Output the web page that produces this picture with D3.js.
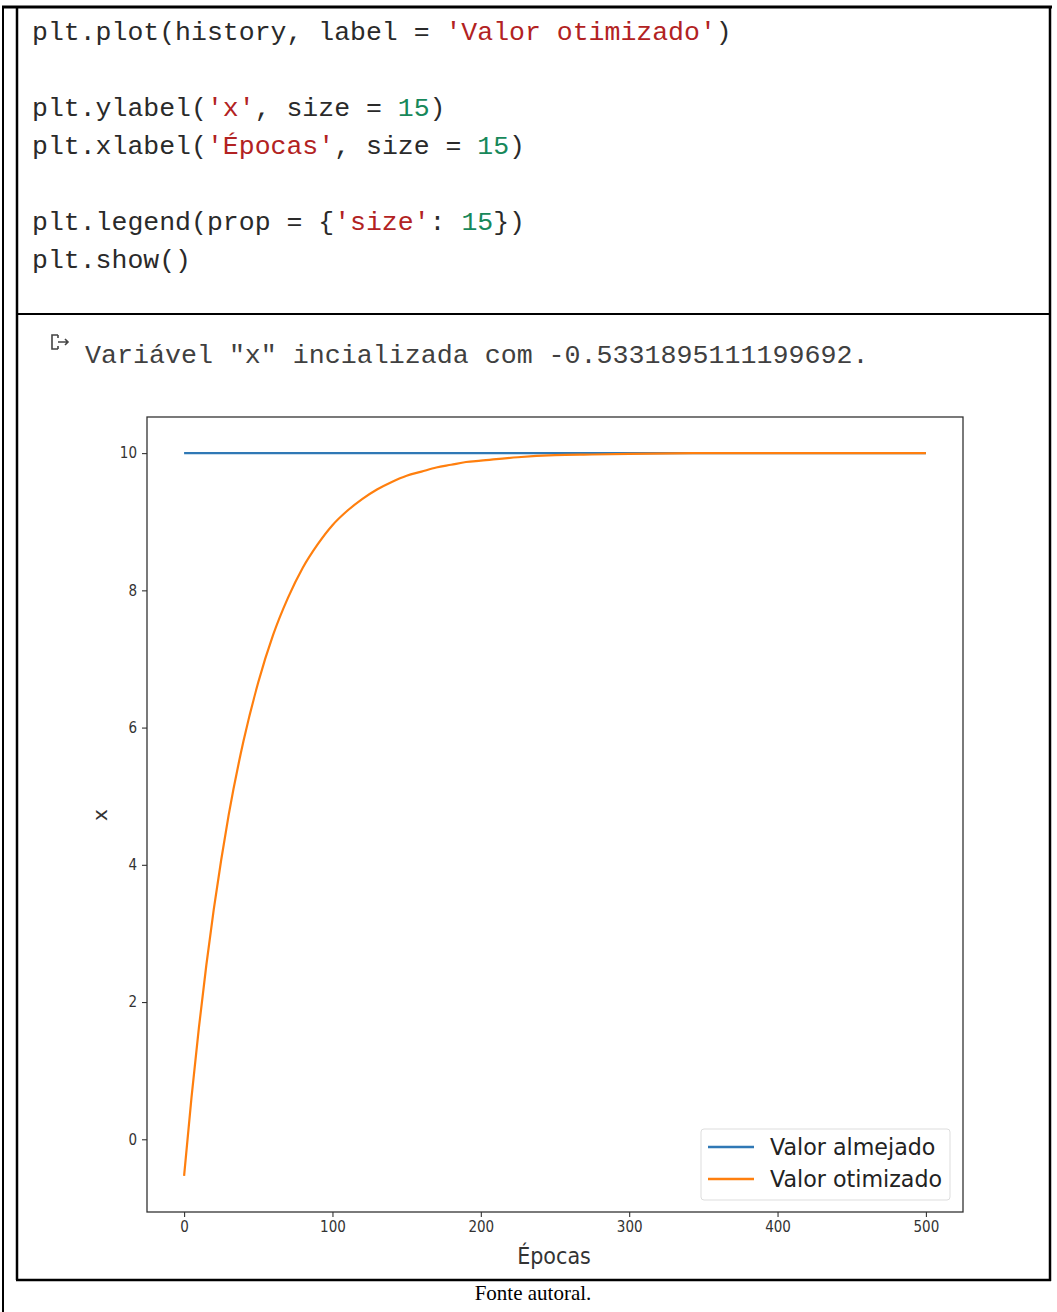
<!DOCTYPE html>
<html>
<head>
<meta charset="utf-8">
<script src="https://cdn.jsdelivr.net/npm/d3@7"></script>
<style>
  html, body { margin: 0; padding: 0; background: #fff; }
  svg { display: block; }
</style>
</head>
<body>
<svg id="page" width="1057" height="1312"></svg>
<script>
// ---------- data ----------
const epochs = [0, 5, 10, 15, 20, 25, 30, 40, 50, 60, 70, 80, 90, 100, 110, 120, 130, 140, 150, 160, 170, 180, 190, 200, 225, 250, 275, 300, 350, 400, 450, 500];
const optimizedValues = [-0.533, 0.61, 1.63, 2.54, 3.35, 4.07, 4.72, 5.80, 6.66, 7.35, 7.89, 8.33, 8.67, 8.95, 9.16, 9.33, 9.47, 9.58, 9.67, 9.73, 9.79, 9.83, 9.87, 9.89, 9.94, 9.97, 9.98, 9.99, 10.0, 10.0, 10.0, 10.0];
const targetEpochs = [0, 500];
const targetValues = [10, 10];
const xTicks = [0, 100, 200, 300, 400, 500];
const yTicks = [0, 2, 4, 6, 8, 10];
const seriesNames = ["Valor almejado", "Valor otimizado"];
const seriesColors = ["#2f78b5", "#ff7f0e"];

const codeLines = [
  [["plt.plot(history, label = ", "k"], ["'Valor otimizado'", "s"], [")", "k"]],
  null,
  [["plt.ylabel(", "k"], ["'x'", "s"], [", size = ", "k"], ["15", "n"], [")", "k"]],
  [["plt.xlabel(", "k"], ["'Épocas'", "s"], [", size = ", "k"], ["15", "n"], [")", "k"]],
  null,
  [["plt.legend(prop = {", "k"], ["'size'", "s"], [": ", "k"], ["15", "n"], ["})", "k"]],
  [["plt.show()", "k"]]
];
const outputText = 'Variável "x" incializada com -0.5331895111199692.';
const caption = "Fonte autoral.";

(function () {
// ---------- page frame ----------
const svg = d3.select("#page");
const frame = svg.append("g").attr("stroke", "#000").attr("fill", "none");
frame.append("line").attr("x1", 3).attr("x2", 3).attr("y1", 6).attr("y2", 1312).attr("stroke-width", 2);
frame.append("line").attr("x1", 2).attr("x2", 1052).attr("y1", 7).attr("y2", 7).attr("stroke-width", 3);
frame.append("line").attr("x1", 17).attr("x2", 17).attr("y1", 7).attr("y2", 1280).attr("stroke-width", 2.5);
frame.append("line").attr("x1", 1050).attr("x2", 1050).attr("y1", 7).attr("y2", 1281).attr("stroke-width", 2.5);
frame.append("line").attr("x1", 17).attr("x2", 1051).attr("y1", 314).attr("y2", 314).attr("stroke-width", 2);
frame.append("line").attr("x1", 16).attr("x2", 1051).attr("y1", 1280).attr("y2", 1280).attr("stroke-width", 2.5);

// ---------- code cell ----------
const colorMap = { k: "#2a2a2a", s: "#b22222", n: "#17885a" };
const codeBaselines = [40, 78, 116, 154, 192, 230, 268];
const codeG = svg.append("g")
  .attr("font-family", "'Liberation Mono', 'DejaVu Sans Mono', monospace")
  .attr("font-size", 26.5);
codeLines.forEach((ln, i) => {
  if (!ln) return;
  const t = codeG.append("text").attr("x", 32).attr("y", codeBaselines[i]).style("white-space", "pre");
  ln.forEach(([txt, c]) => t.append("tspan").attr("fill", colorMap[c]).text(txt));
});

// output icon
const icon = svg.append("g").attr("stroke", "#444").attr("fill", "none").attr("stroke-width", 1.6);
icon.append("path").attr("d", "M58,335 L52,335 L52,349 L58,349");
icon.append("path").attr("d", "M58,342 L68,342 M65,339 L68,342 L65,345");
icon.append("path").attr("d", "M58,335 L58,338 M58,346 L58,349");

svg.append("text")
  .attr("x", 85).attr("y", 363)
  .attr("font-family", "'Liberation Mono', 'DejaVu Sans Mono', monospace")
  .attr("font-size", 26.65)
  .attr("fill", "#404040")
  .style("white-space", "pre")
  .text(outputText);

// ---------- chart ----------
const pLeft = 147, pRight = 963, pTop = 417, pBottom = 1212;
const x = d3.scaleLinear().domain([-25, 525]).range([pLeft, pRight]);
const y = d3.scaleLinear().domain([-1.0597, 10.5263]).range([pBottom, pTop]);

const chart = svg.append("g");

chart.append("path")
  .datum(targetEpochs.map((e, i) => [e, targetValues[i]]))
  .attr("d", d3.line().x(d => x(d[0])).y(d => y(d[1])))
  .attr("fill", "none").attr("stroke", seriesColors[0]).attr("stroke-width", 2.4);
chart.append("path")
  .datum(epochs.map((e, i) => [e, optimizedValues[i]]))
  .attr("d", d3.line().x(d => x(d[0])).y(d => y(d[1])).curve(d3.curveMonotoneX))
  .attr("fill", "none").attr("stroke", seriesColors[1]).attr("stroke-width", 2.2);

// frame of axes
chart.append("rect")
  .attr("x", pLeft).attr("y", pTop).attr("width", pRight - pLeft).attr("height", pBottom - pTop)
  .attr("fill", "none").attr("stroke", "#333").attr("stroke-width", 1.3);

const xAxis = chart.append("g").attr("transform", `translate(0,${pBottom})`)
  .call(d3.axisBottom(x).tickValues(xTicks).tickSize(5).tickPadding(4).tickFormat(d3.format("d")));
const yAxis = chart.append("g").attr("transform", `translate(${pLeft},0)`)
  .call(d3.axisLeft(y).tickValues(yTicks).tickSize(5).tickPadding(5).tickFormat(d3.format("d")));
[xAxis, yAxis].forEach(a => {
  a.select(".domain").remove();
  a.selectAll(".tick line").attr("stroke", "#333").attr("stroke-width", 1.1);
  a.selectAll(".tick text").attr("fill", "#333").attr("font-family", "'DejaVu Sans', sans-serif")
    .attr("font-size", 15).style("font-stretch", "condensed");
});

// axis labels
chart.append("text")
  .attr("x", (pLeft + pRight) / 2 - 1).attr("y", 1264)
  .attr("text-anchor", "middle")
  .attr("font-family", "'DejaVu Sans', sans-serif").attr("font-size", 23)
  .style("font-stretch", "condensed")
  .attr("fill", "#333").text("Épocas");
chart.append("text")
  .attr("transform", `translate(107,815) rotate(-90)`)
  .attr("text-anchor", "middle")
  .attr("font-family", "'DejaVu Sans', sans-serif").attr("font-size", 20)
  .attr("fill", "#333").text("x");

// legend
const leg = chart.append("g");
leg.append("rect")
  .attr("x", 701).attr("y", 1129).attr("width", 249).attr("height", 71).attr("rx", 3)
  .attr("fill", "#fff").attr("stroke", "#ddd").attr("stroke-width", 1);
seriesNames.forEach((name, i) => {
  const cy = 1147 + i * 32;
  leg.append("line").attr("x1", 708).attr("x2", 754).attr("y1", cy).attr("y2", cy)
    .attr("stroke", seriesColors[i]).attr("stroke-width", 2.4);
  leg.append("text").attr("x", 770).attr("y", cy + 8)
    .attr("font-family", "'DejaVu Sans', sans-serif").attr("font-size", 22.2)
    .attr("fill", "#222").text(name);
});

// caption
svg.append("text")
  .attr("x", 533).attr("y", 1300)
  .attr("text-anchor", "middle")
  .attr("font-family", "'Liberation Serif', 'Times New Roman', serif").attr("font-size", 21)
  .attr("fill", "#000").text(caption);
})();
</script>
</body>
</html>
